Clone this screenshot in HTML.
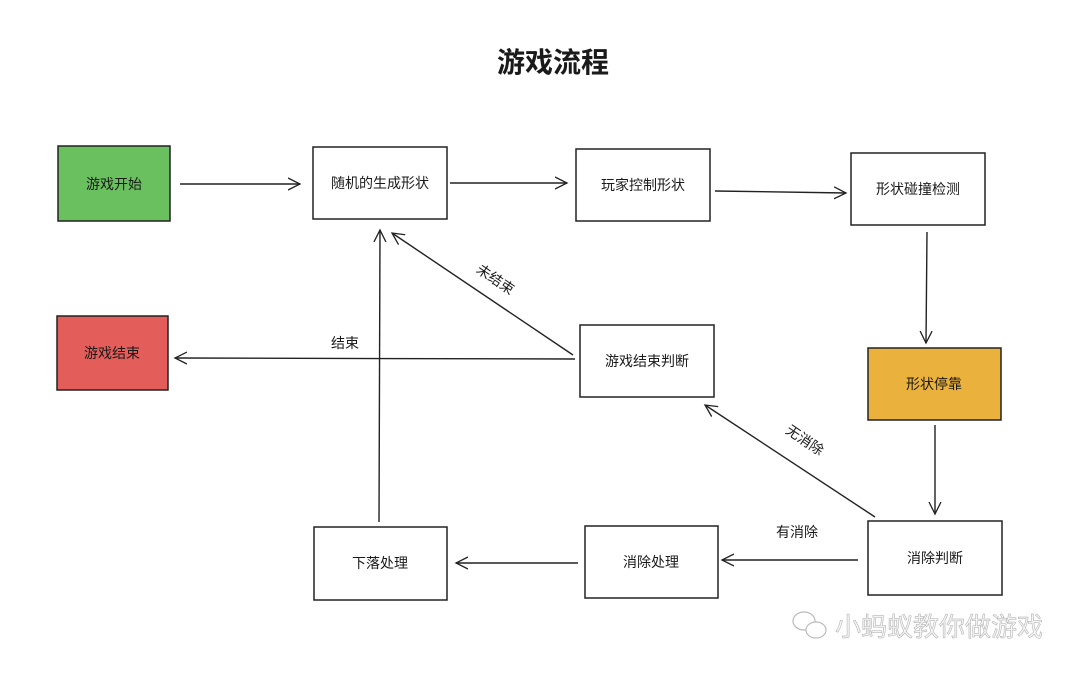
<!DOCTYPE html>
<html><head><meta charset="utf-8"><style>
html,body{margin:0;padding:0;background:#fff;}
svg text{font-family:"Liberation Sans","Noto Sans CJK SC",sans-serif;fill:#1a1a1a;}
</style></head><body>
<svg width="1080" height="674" viewBox="0 0 1080 674" xmlns="http://www.w3.org/2000/svg">
<defs>
<marker id="a" markerWidth="14" markerHeight="14" refX="12" refY="7" orient="auto" markerUnits="userSpaceOnUse">
<path d="M0,1 L12,7 L0,13" fill="none" stroke="#222" stroke-width="1.3"/>
</marker>
</defs>
<text x="553" y="72" font-size="28" font-weight="bold" text-anchor="middle">游戏流程</text>
<g stroke="#222" stroke-width="1.5">
<rect x="58" y="146" width="112" height="75" fill="#6abf5f"/>
<rect x="313" y="147" width="134" height="72" fill="#fff"/>
<rect x="576" y="149" width="134" height="72" fill="#fff"/>
<rect x="851" y="153" width="134" height="72" fill="#fff"/>
<rect x="57" y="316" width="111" height="74" fill="#e35d5a"/>
<rect x="580" y="325" width="134" height="72" fill="#fff"/>
<rect x="868" y="348" width="133" height="72" fill="#ebb13d"/>
<rect x="868" y="521" width="134" height="74" fill="#fff"/>
<rect x="585" y="526" width="133" height="72" fill="#fff"/>
<rect x="314" y="527" width="133" height="73" fill="#fff"/>
</g>
<g stroke="#222" stroke-width="1.4" fill="none" marker-end="url(#a)">
<line x1="180" y1="184" x2="300" y2="184"/>
<line x1="450" y1="183" x2="567" y2="183"/>
<line x1="715" y1="191" x2="846" y2="193"/>
<line x1="927" y1="232" x2="926" y2="343"/>
<line x1="935" y1="425" x2="935" y2="514"/>
<line x1="858" y1="560" x2="722" y2="560"/>
<line x1="578" y1="563" x2="456" y2="563"/>
<line x1="379" y1="522" x2="380" y2="230"/>
<line x1="573" y1="355" x2="392" y2="233"/>
<line x1="575" y1="359" x2="175" y2="358"/>
<line x1="875" y1="517" x2="705" y2="405"/>
</g>
<g font-size="14" text-anchor="middle">
<text x="114" y="189">游戏开始</text>
<text x="380" y="188">随机的生成形状</text>
<text x="643" y="190">玩家控制形状</text>
<text x="918" y="194">形状碰撞检测</text>
<text x="112" y="358">游戏结束</text>
<text x="647" y="366">游戏结束判断</text>
<text x="934" y="389">形状停靠</text>
<text x="935" y="563">消除判断</text>
<text x="651" y="567">消除处理</text>
<text x="380" y="568">下落处理</text>
<text x="345" y="348">结束</text>
<text x="797" y="537">有消除</text>
<text x="495" y="284" transform="rotate(34 495 280)">未结束</text>
<text x="805" y="445" transform="rotate(34 805 440)">无消除</text>
</g>
<text x="835" y="636" font-size="26" style="fill:#f4f4f4;stroke:#aaa;stroke-width:0.5">小蚂蚁教你做游戏</text>
<g fill="#fff" stroke="#bbb" stroke-width="1.2">
<ellipse cx="804" cy="621" rx="11" ry="9"/>
<ellipse cx="816" cy="630" rx="10" ry="8"/>
</g>
</svg>
</body></html>
